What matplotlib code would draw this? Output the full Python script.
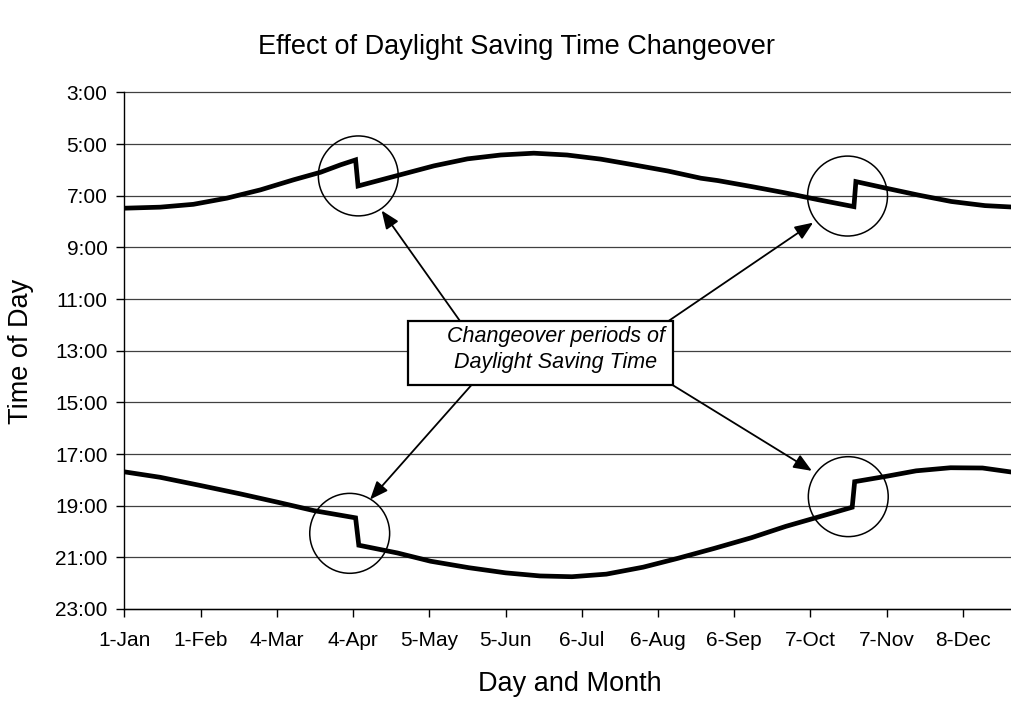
import matplotlib
matplotlib.use("Agg")
import matplotlib.pyplot as plt
from matplotlib.patches import Ellipse, Rectangle

plt.rcParams['font.family'] = ['Liberation Sans', 'DejaVu Sans']

# ---- data (day of year, time in hours) ----
sunrise_day = [0, 14.5, 28, 41.7, 55.3, 68.8, 79.7, 87.9, 94, 95, 112, 125.9, 139.5,
               153, 166.5, 180, 193.7, 207, 221, 234.5, 241.3, 254.9, 268.4, 282.6,
               296.7, 297.5, 310, 322.8, 336.3, 350, 364]
sunrise_hr = [7.48, 7.44, 7.33, 7.09, 6.77, 6.38, 6.09, 5.80, 5.61, 6.62, 6.19, 5.84, 5.57,
              5.42, 5.35, 5.42, 5.58, 5.80, 6.04, 6.32, 6.41, 6.64, 6.88, 7.16,
              7.42, 6.45, 6.71, 6.97, 7.22, 7.38, 7.45]

sunset_day = [0, 14.5, 31, 47, 62.5, 77, 94, 95.3, 111, 124.5, 140, 155, 169, 182,
              196, 211, 225, 240, 255, 269, 284, 296, 297, 310, 322, 336, 349, 364]
sunset_hr = [17.69, 17.90, 18.22, 18.54, 18.87, 19.19, 19.47, 20.53, 20.83, 21.15, 21.40,
             21.60, 21.72, 21.75, 21.65, 21.38, 21.04, 20.65, 20.24, 19.80, 19.39,
             19.06, 18.07, 17.86, 17.65, 17.53, 17.54, 17.74]

tick_days = [0, 31, 62, 93, 124, 155, 186, 217, 248, 279, 310, 341]
tick_labels = ['1-Jan', '1-Feb', '4-Mar', '4-Apr', '5-May', '5-Jun', '6-Jul',
               '6-Aug', '6-Sep', '7-Oct', '7-Nov', '8-Dec']
hour_ticks = list(range(3, 24, 2))
hour_labels = [f'{h}:00' for h in hour_ticks]

W, H = 1012, 701
fig = plt.figure(figsize=(W / 100, H / 100), dpi=100)
ax = fig.add_axes([124.5 / W, 1 - 609 / H, (W - 124.5) / W, (609 - 92.5) / H])

ax.plot(sunrise_day, sunrise_hr, color='black', lw=3.4, solid_joinstyle='miter', zorder=3)
ax.plot(sunset_day, sunset_hr, color='black', lw=3.4, solid_joinstyle='miter', zorder=3)

ax.set_xlim(0, 361)
ax.set_ylim(23, 3)
ax.set_xticks(tick_days)
ax.set_xticklabels(tick_labels, fontsize=15)
ax.set_yticks(hour_ticks)
ax.set_yticklabels(hour_labels, fontsize=15)
ax.tick_params(axis='both', direction='out', length=5.8, width=1, color='black')
ax.tick_params(axis='x', pad=10)
ax.tick_params(axis='y', pad=6.5)
ax.grid(axis='y', color='#404040', lw=0.9)
for gl in ax.get_ygridlines():
    gl.set_clip_on(False)
ax.set_axisbelow(True)
for s in ['top', 'right']:
    ax.spines[s].set_visible(False)
for s in ['left', 'bottom']:
    ax.spines[s].set_linewidth(1.0)
    ax.spines[s].set_color('black')

# circles around changeovers (data units; ~40 px radius)
cw, ch = 32.5, 3.095
for cx, cy in [(95.1, 6.23), (294.1, 7.01), (91.6, 20.07), (294.4, 18.65)]:
    ax.add_patch(Ellipse((cx, cy), cw, ch, fill=False, ec='black', lw=1.1, zorder=4))

# annotation box
ax.add_patch(Rectangle((115.2, 11.84), 223 - 115.2, 14.32 - 11.84, fc='white',
                       ec='black', lw=1.6, zorder=5))
ax.text(175.5, 12.94, 'Changeover periods of\nDaylight Saving Time', ha='center',
        va='center', fontsize=15.5, style='italic', linespacing=1.33, zorder=6)

arrow_kw = dict(arrowstyle='-|>,head_length=1.1,head_width=0.45', lw=1.3,
                color='black', shrinkA=0, shrinkB=0, mutation_scale=10)
for (x0, y0), (x1, y1) in [((136.4, 11.84), (104.6, 7.57)),
                           ((221.4, 11.84), (280.1, 8.04)),
                           ((141.2, 14.32), (99.9, 18.76)),
                           ((222.8, 14.32), (279.6, 17.65))]:
    ax.annotate('', xy=(x1, y1), xytext=(x0, y0), arrowprops=arrow_kw, zorder=4)

fig.text(516 / W, 1 - 47 / H, 'Effect of Daylight Saving Time Changeover',
         ha='center', va='center', fontsize=19.5)
fig.text(570 / W, 1 - 684 / H, 'Day and Month', ha='center', va='center', fontsize=19.5)
fig.text(21 / W, 1 - 351 / H, 'Time of Day', ha='center', va='center',
         rotation=90, fontsize=19.5)

fig.savefig('out.png', dpi=100)
